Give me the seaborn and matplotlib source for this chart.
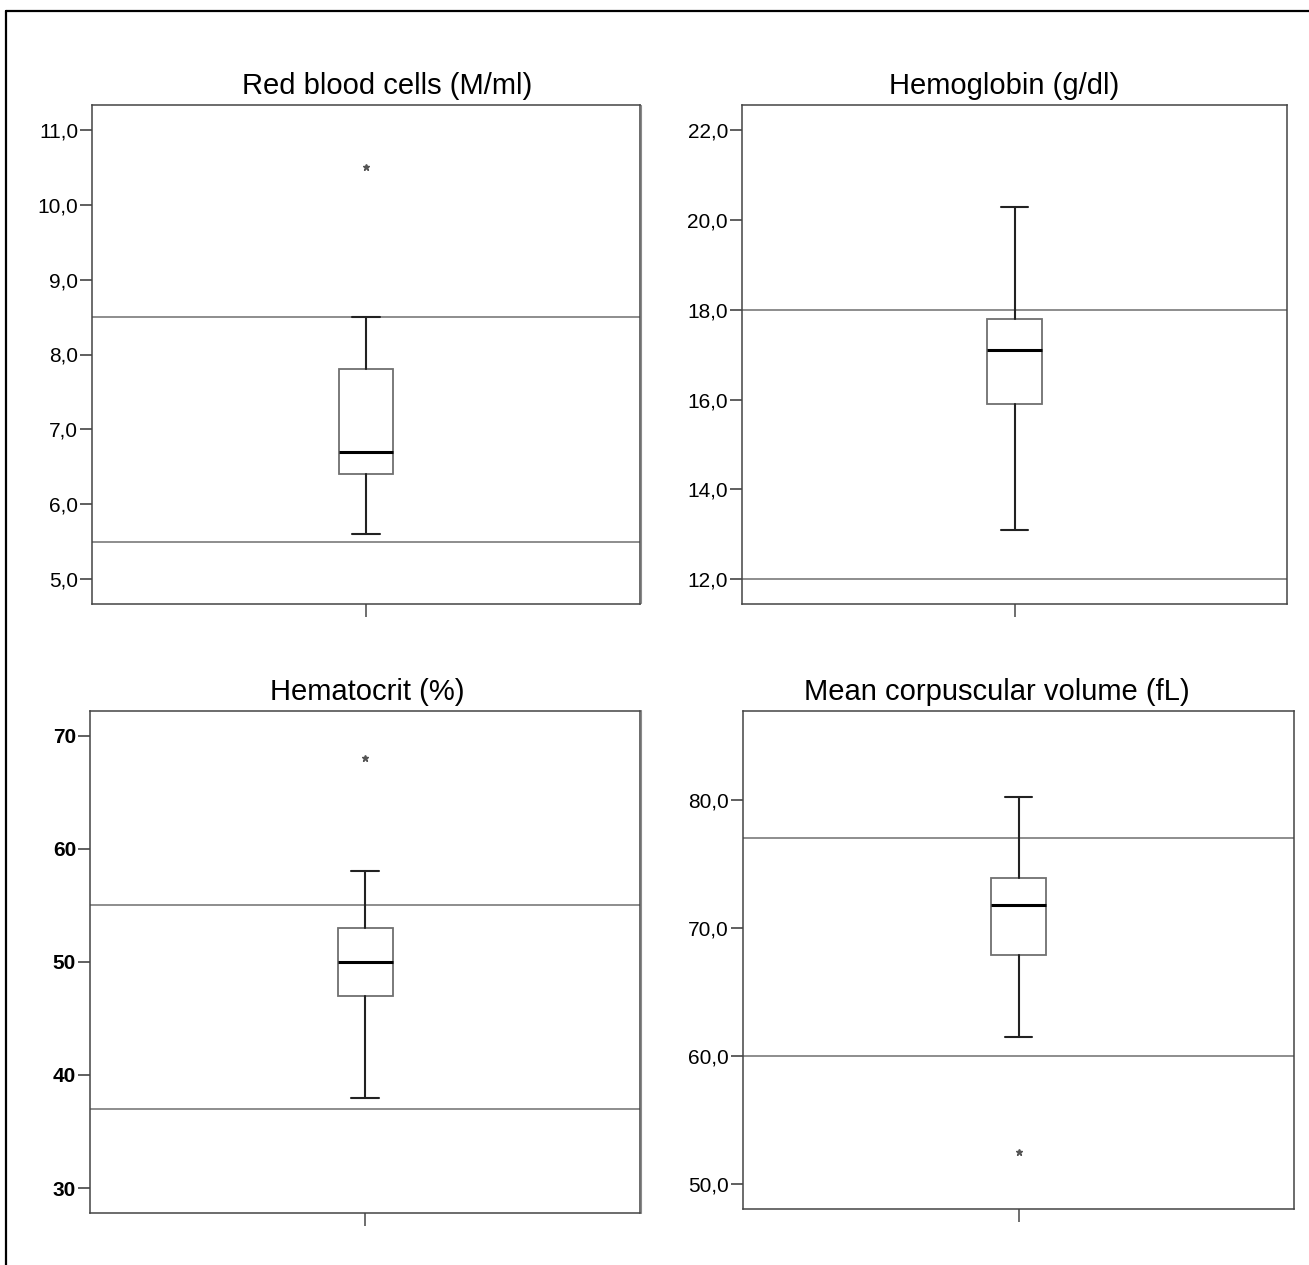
import numpy as np
import matplotlib
matplotlib.use("Agg")
import matplotlib.pyplot as plt
from matplotlib.lines import Line2D
from matplotlib.ticker import FuncFormatter
import seaborn as sns

# values
titles = ["Red blood cells (M/ml)", "Hemoglobin (g/dl)",
          "Hematocrit (%)", "Mean corpuscular volume (fL)"]
whislo = [5.6, 13.1, 38.0, 61.5]
q1 = [6.4, 15.9, 47.0, 67.9]
med = [6.7, 17.1, 50.0, 71.8]
q3 = [7.8, 17.8, 53.0, 73.9]
whishi = [8.5, 20.3, 58.0, 80.2]
fliers = [[10.5], [], [68.0], [52.5]]
ref_low = [5.5, 12.0, 37.0, 60.0]
ref_high = [8.5, 18.0, 55.0, 77.0]
yticks = [[5, 6, 7, 8, 9, 10, 11], [12, 14, 16, 18, 20, 22],
          [30, 40, 50, 60, 70], [50, 60, 70, 80]]

sns.set_style("white")
plt.rcParams['font.family'] = ['Liberation Sans', 'DejaVu Sans']
plt.rcParams['text.color'] = 'black'
plt.rcParams['ytick.labelcolor'] = 'black'

W, H = 1309, 1265
fig = plt.figure(figsize=(W / 100, H / 100), dpi=100)

# axes boxes in pixels: left, right, top, bottom
boxes = [(92, 640, 105, 604), (742, 1287, 105, 604),
         (90, 640, 711, 1213), (743, 1294, 711, 1209)]
ylims = [(4.667, 11.333), (11.45, 22.56), (27.79, 72.18), (48.05, 86.95)]
title_x = [0.538, 0.481, 0.505, 0.461]
fmts = ["{:.1f}", "{:.1f}", "{:.0f}", "{:.1f}"]
bold = [False, False, True, False]

for i in range(4):
    l, r, t, b = boxes[i]
    ax = fig.add_axes([l / W, 1 - b / H, (r - l) / W, (b - t) / H])
    stats = [dict(med=med[i], q1=q1[i], q3=q3[i], whislo=whislo[i],
                  whishi=whishi[i], fliers=fliers[i])]
    for y in (ref_low[i], ref_high[i]):
        ax.axhline(y, color="#7a7a7a", lw=1.2, zorder=1)
    ax.bxp(stats, positions=[0], widths=0.1, patch_artist=True,
           boxprops=dict(facecolor="white", edgecolor="#707070", lw=1.3),
           medianprops=dict(color="black", lw=2.2),
           whiskerprops=dict(color="#222222", lw=1.5),
           capprops=dict(color="#222222", lw=1.5),
           flierprops=dict(marker="*", markersize=4.5, markerfacecolor="#555555",
                           markeredgecolor="#555555", linestyle="none"),
           zorder=2)
    ax.set_xlim(-0.5, 0.5)
    ax.set_ylim(*ylims[i])
    ax.set_yticks(yticks[i])
    f = fmts[i]
    ax.yaxis.set_major_formatter(FuncFormatter(lambda v, p, f=f: f.format(v).replace(".", ",")))
    ax.set_xticks([0])
    ax.set_xticklabels([""])
    ax.tick_params(axis="y", left=True, direction="out", length=9, width=1.2,
                   color="#444444", labelcolor="black", labelsize=15, pad=1)
    ax.tick_params(axis="x", bottom=True, direction="out", length=9, width=1.2,
                   color="#555555")
    if bold[i]:
        for lab in ax.get_yticklabels():
            lab.set_fontweight("bold")
    for s in ax.spines.values():
        s.set_color("#444444")
        s.set_linewidth(1.1)
    ax.set_title(titles[i], fontsize=21, pad=8, x=title_x[i], color="black")

# outer frame (top and left visible), and the panel seams on the right
fig.add_artist(Line2D([6 / W, 1], [1 - 11 / H, 1 - 11 / H], color="black", lw=1.6))
fig.add_artist(Line2D([6 / W, 6 / W], [0, 1 - 11 / H], color="black", lw=1.6))
fig.add_artist(Line2D([640.5 / W, 640.5 / W], [1 - 603 / H, 1 - 105 / H], color="#8a8a8a", lw=0.8))
fig.add_artist(Line2D([640.5 / W, 640.5 / W], [1 - 1213 / H, 1 - 710 / H], color="#8a8a8a", lw=0.8))

fig.savefig("out.png", dpi=100)
